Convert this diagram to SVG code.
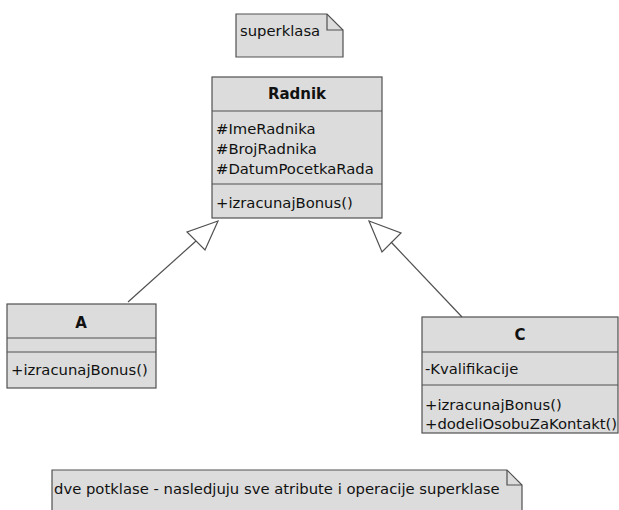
<svg xmlns="http://www.w3.org/2000/svg" width="619" height="510" viewBox="0 0 619 510">
<style>
.box{fill:#dcdcdc;stroke:#505050;stroke-width:1.2}
.ln{fill:none;stroke:#505050;stroke-width:1.2}
.t{font-family:"DejaVu Sans",Verdana,sans-serif;font-size:14.8px;fill:#111}
.b{font-weight:bold;text-anchor:middle;font-size:15px}
</style>
<rect width="619" height="510" fill="#fff"/>
<g id="note-superklasa">
<path class="box" d="M236,14 H327 L343,30 V57 H236 Z"/>
<path class="ln" d="M327,14 V30 H343"/>
<text class="t" x="240" y="36">superklasa</text>
</g>
<g id="Radnik">
<rect class="box" x="212" y="77" width="170" height="141"/>
<line class="ln" x1="212" y1="111" x2="382" y2="111"/>
<line class="ln" x1="212" y1="184" x2="382" y2="184"/>
<text class="t b" x="297" y="99">Radnik</text>
<text class="t" x="216" y="134">#ImeRadnika</text>
<text class="t" x="216" y="154">#BrojRadnika</text>
<text class="t" x="216" y="174">#DatumPocetkaRada</text>
<text class="t" x="216" y="208">+izracunajBonus()</text>
</g>
<g id="A">
<rect class="box" x="7" y="304" width="149" height="84"/>
<line class="ln" x1="7" y1="338" x2="156" y2="338"/>
<line class="ln" x1="7" y1="352" x2="156" y2="352"/>
<text class="t b" x="81" y="328">A</text>
<text class="t" x="11" y="375">+izracunajBonus()</text>
</g>
<g id="C">
<rect class="box" x="422" y="317" width="196" height="116"/>
<line class="ln" x1="422" y1="352" x2="618" y2="352"/>
<line class="ln" x1="422" y1="385" x2="618" y2="385"/>
<text class="t b" x="520" y="340">C</text>
<text class="t" x="425" y="374">-Kvalifikacije</text>
<text class="t" x="425" y="410">+izracunajBonus()</text>
<text class="t" x="425" y="429">+dodeliOsobuZaKontakt()</text>
</g>
<g id="note-potklase">
<path class="box" d="M52,470 H507 L522,485 V512 H52 Z"/>
<path class="ln" d="M507,470 V485 H522"/>
<text class="t" x="54" y="494">dve potklase - nasledjuju sve atribute i operacije superklase</text>
</g>
<g id="connectors">
<line class="ln" x1="128" y1="302" x2="196" y2="241"/>
<polygon class="ln" fill="#fff" points="218,221 187,232 205,250"/>
<line class="ln" x1="462" y1="317" x2="391" y2="242"/>
<polygon class="ln" fill="#fff" points="369,221 401,233 382,252"/>
</g>
</svg>
